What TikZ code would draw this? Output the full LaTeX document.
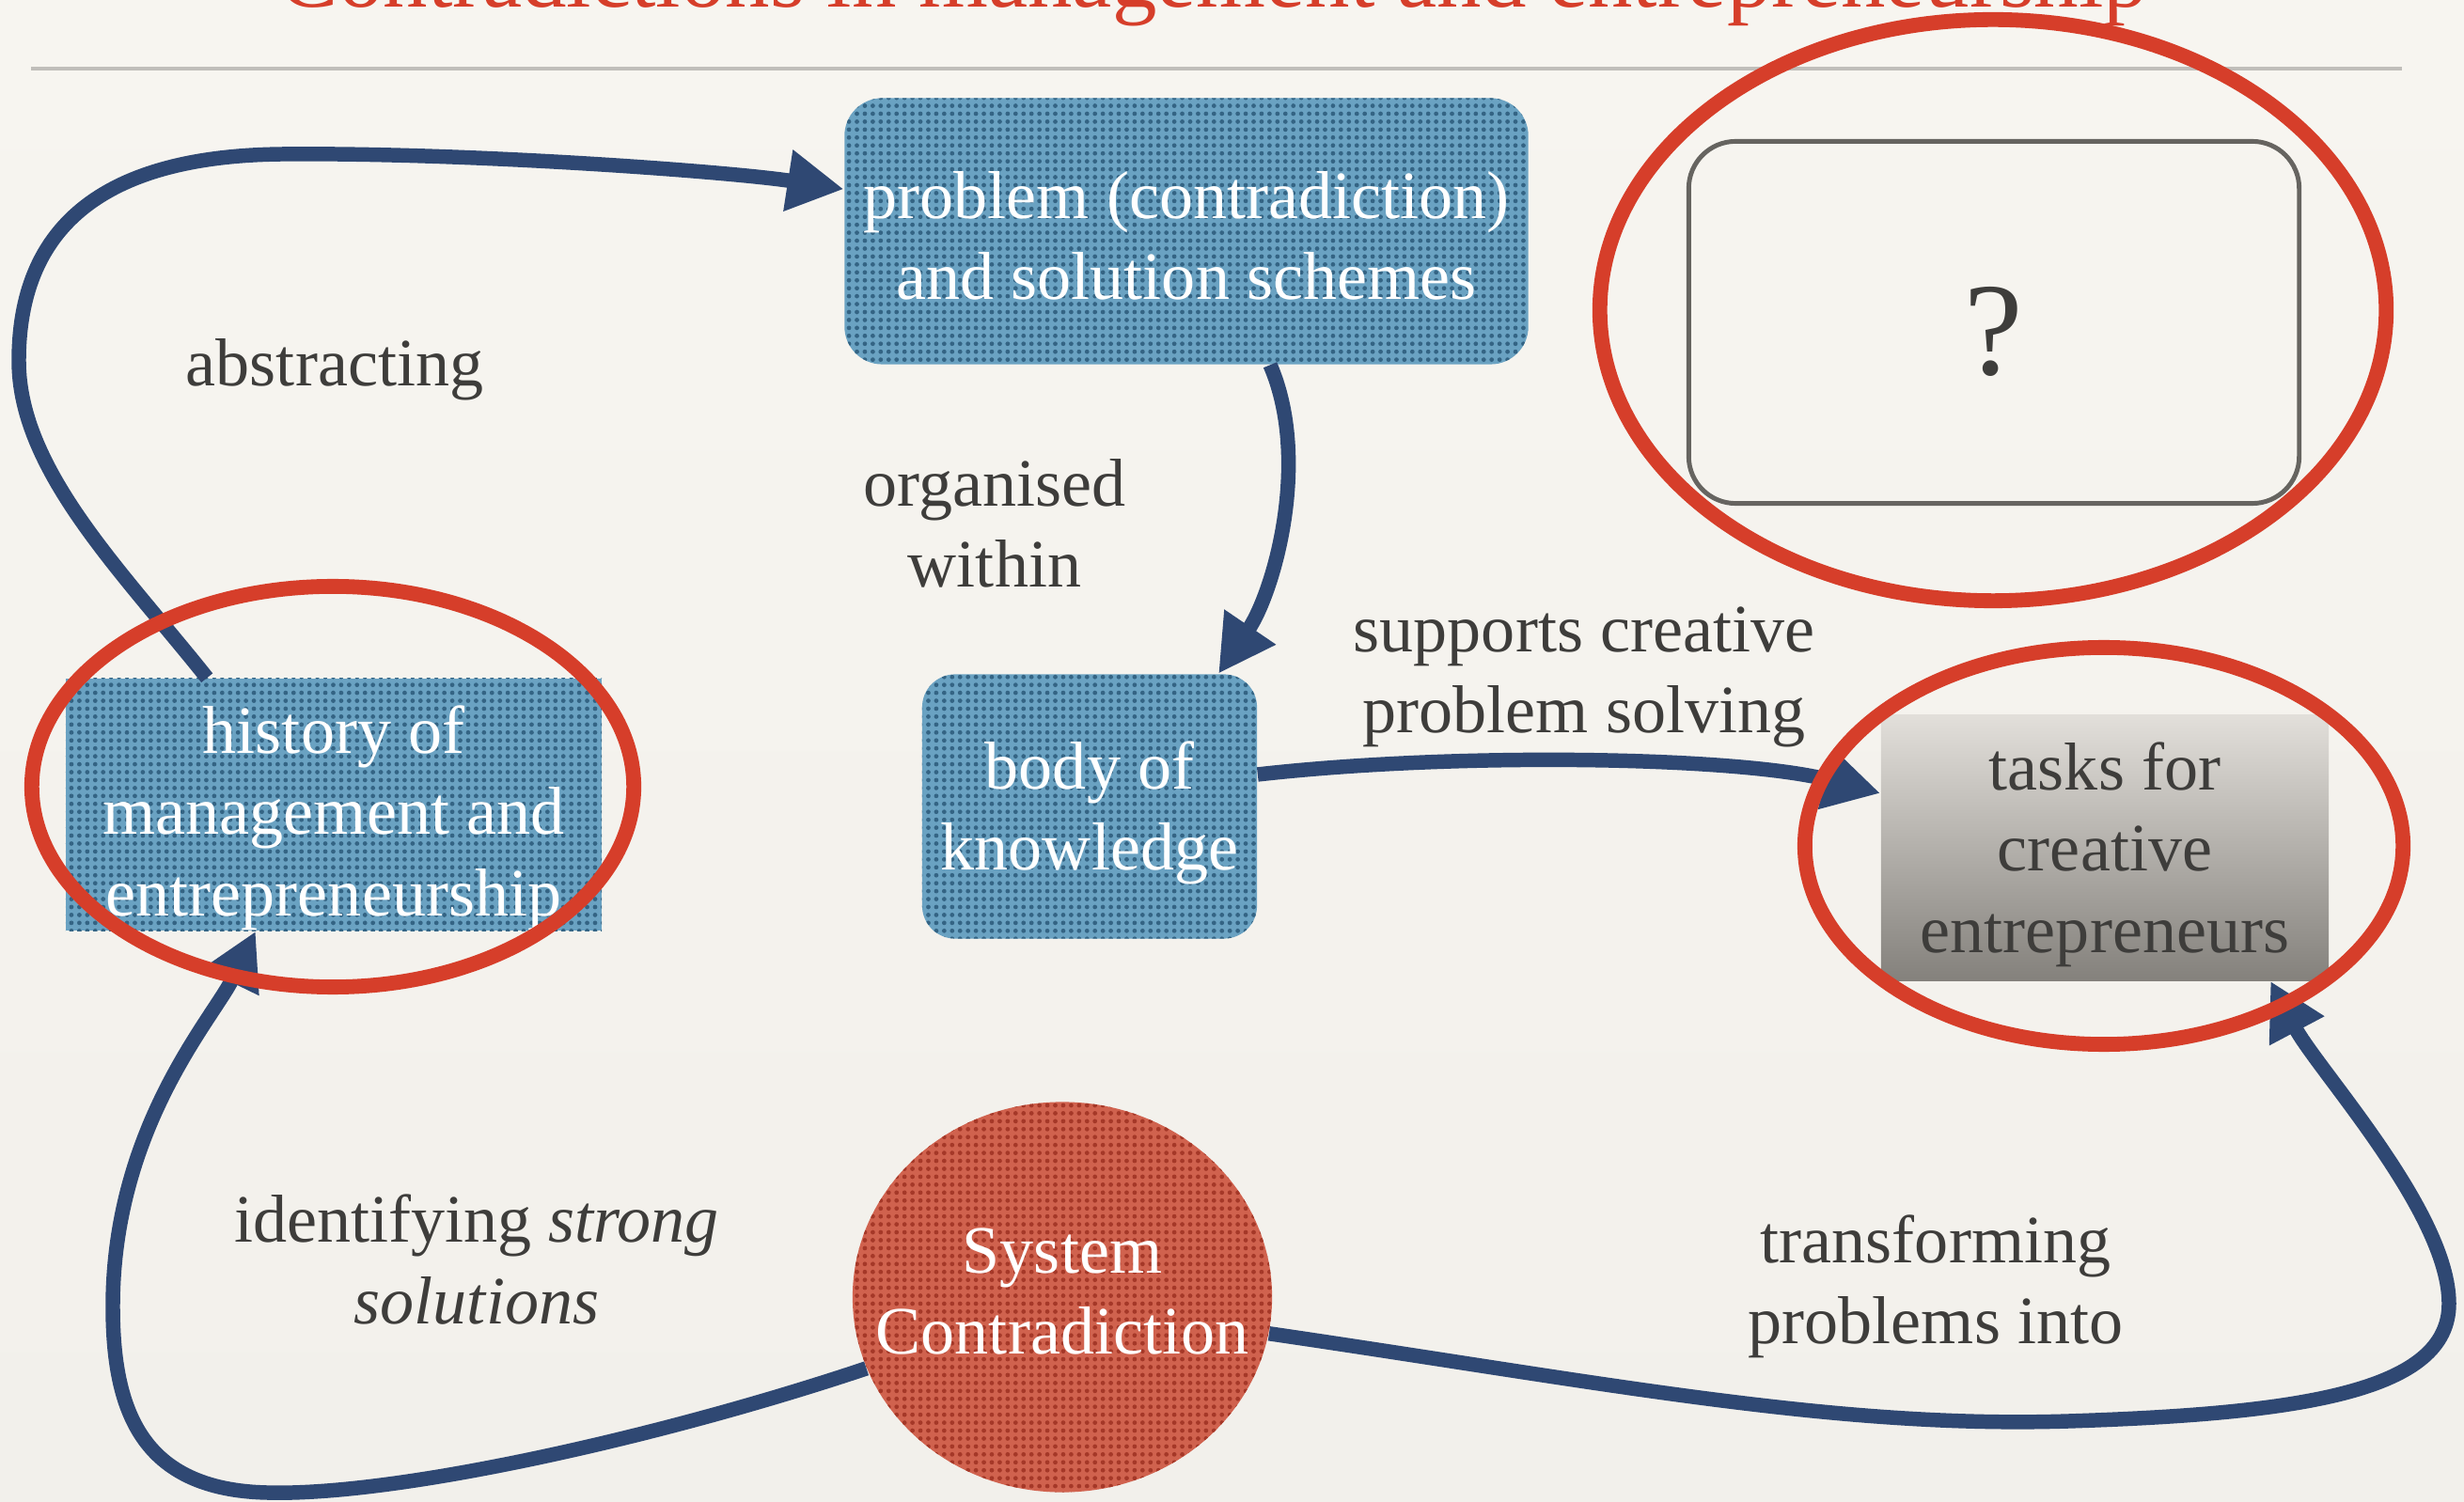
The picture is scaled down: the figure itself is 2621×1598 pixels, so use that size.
\documentclass[tikz,border=0pt]{standalone}
\usepackage{fontspec}
\setmainfont{Liberation Serif}
\usepackage{tikz}
\usetikzlibrary{positioning,calc}
\usetikzlibrary{arrows.meta,shapes.geometric,patterns}
\pgfdeclarepatternformonly{halftone}{\pgfqpoint{-1pt}{-1pt}}{\pgfqpoint{1pt}{1pt}}{\pgfqpoint{2.4pt}{2.4pt}}
  {\pgfpathcircle{\pgfpointorigin}{0.68pt}\pgfusepath{fill}}
\definecolor{PaperTop}{RGB}{247,245,240}
\definecolor{PaperMid}{RGB}{232,229,224}
\definecolor{PaperBot}{RGB}{242,240,235}
\definecolor{TitleRed}{RGB}{214,62,42}
\definecolor{RuleGray}{RGB}{192,190,186}
\definecolor{BoxBlue}{RGB}{106,162,194}
\definecolor{DotBlue}{RGB}{52,100,132}
\definecolor{BoxRed}{RGB}{208,98,78}
\definecolor{DotRed}{RGB}{165,56,40}
\definecolor{ArrowNavy}{RGB}{47,72,115}
\definecolor{InkGray}{RGB}{62,61,59}
\definecolor{FrameGray}{RGB}{102,100,96}
\definecolor{TaskTop}{RGB}{226,223,218}
\definecolor{TaskBot}{RGB}{132,129,124}
\newcommand{\sdrop}[1]{\rule{0pt}{#1}}
\tikzset{
  txt/.style={font=\fontsize{20.5}{24.5}\selectfont,align=center,inner sep=0pt},
  blk/.style={txt,fill=BoxBlue,text=white,
    postaction={pattern=halftone,pattern color=DotBlue}},
  taskblk/.style={txt,text=InkGray,top color=TaskTop,bottom color=TaskBot,
    minimum width=4.76cm,minimum height=2.82cm},
  qblk/.style={draw=FrameGray,line width=1.4pt,rounded corners=0.5cm,text=InkGray,
    font=\fontsize{40}{44}\selectfont,minimum width=6.49cm,minimum height=3.85cm},
  sysc/.style={ellipse,inner sep=0pt,fill=BoxRed,
    postaction={pattern=halftone,pattern color=DotRed},
    minimum width=4.46cm,minimum height=4.15cm},
  note/.style={txt,text=InkGray},
  link/.style={draw=ArrowNavy,line width=4.4pt,-{Triangle[length=0.6cm,width=0.62cm]}},
  ring/.style={draw=TitleRed,line width=4.5pt},
}
\begin{document}
\begin{tikzpicture}[x=0.01cm,y=-0.01cm]
\useasboundingbox (0,0) rectangle (2621,1598);
\clip (0,0) rectangle (2621,1598);
\shade[top color=PaperTop,middle color=PaperMid,bottom color=PaperBot] (0,0) rectangle (2621,1598);

% title, cut by the top edge
\node[font=\fontsize{27}{30}\selectfont,text=TitleRed,anchor=base,inner sep=0pt] (title) at (1291,8)
  {Contradictions in management and entrepreneurship};
\draw[RuleGray,line width=1.1pt] (33,73) -- (2555,73);

% blocks
\node[blk,rounded corners=0.4cm,minimum width=7.27cm,minimum height=2.83cm] (prob) at (1262,246)
  {\sdrop{17pt}problem (contradiction)\\and solution schemes};
\node[blk,rounded corners=0.35cm,minimum width=3.56cm,minimum height=2.81cm] (body) at (1159,858)
  {\sdrop{18.5pt}body of\\knowledge};
\node[blk,minimum width=5.70cm,minimum height=2.68cm] (hist) at (355,856)
  {\sdrop{22.5pt}history of\\management and\\entrepreneurship};
\node[taskblk] (tasks) at (2239,902) {\sdrop{18.5pt}tasks for\\creative\\entrepreneurs};
\node[qblk] (quest) at (2121,343) {\sdrop{32pt}?};
\node[sysc] (sysc) at (1130,1380) {};
\node[txt,text=white] (sysct) at (1130,1374) {System\\Contradiction};

% labels
\node[note] (labs) at (356,393) {abstracting};
\node[note] (lorg) at (1058,557) {organised\\within};
\node[note] (lsup) at (1685,720) {supports creative\\problem solving};
\node[note] (lident) at (507,1340) {identifying \textit{strong}\\\textit{solutions}};
\node[note] (ltrans) at (2059,1369) {transforming\\problems into};

% connectors
\draw[link] (hist.135) .. controls (130,608) and (20,500) .. (20,384)
  .. controls (20,245) and (105,166) .. (300,164)
  .. controls (500,162) and (780,183) .. (prob.173);
\draw[link] ([xshift=0.89cm]prob.south) .. controls (1395,490) and (1355,630) .. ([xshift=1.37cm]body.north);
\draw[link] ([yshift=0.34cm]body.east) .. controls (1550,800) and (1850,805) .. ([yshift=0.58cm]tasks.west);
\draw[link] (sysc.200) .. controls (700,1530) and (420,1592) .. (284,1588)
  .. controls (150,1585) and (120,1500) .. (120,1390)
  .. controls (120,1200) and (227,1083) .. ([xshift=-0.83cm]hist.south);
\draw[link] (sysc.-10) .. controls (1700,1470) and (1950,1520) .. (2200,1512)
  .. controls (2450,1504) and (2605,1480) .. (2605,1387)
  .. controls (2605,1290) and (2465,1138) .. ([xshift=1.76cm]tasks.south);

% red rings
\draw[ring] (354,837) ellipse [x radius=3.20cm,y radius=2.13cm];
\draw[ring] (2120,330) ellipse [x radius=4.18cm,y radius=3.09cm];
\draw[ring] (2238,900) ellipse [x radius=3.18cm,y radius=2.11cm];
\end{tikzpicture}
\end{document}
